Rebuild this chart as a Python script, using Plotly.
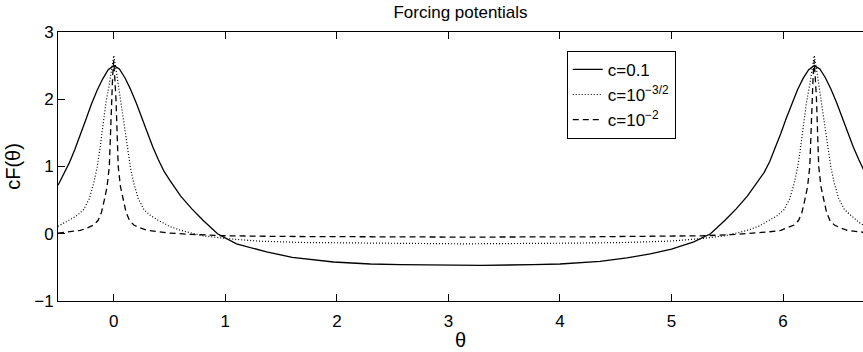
import plotly.graph_objects as go

# ---- data ----
theta_a = [-0.5, -0.45, -0.4, -0.35, -0.3, -0.25, -0.2, -0.15, -0.1, -0.05, 0.0,
           0.05, 0.1, 0.15, 0.2, 0.25, 0.3, 0.35, 0.4, 0.45, 0.5, 0.6, 0.7, 0.8,
           0.93, 1.1, 1.37, 1.6, 1.97, 2.3, 2.57, 3.0, 3.3, 3.76, 4.0, 4.36, 4.6,
           4.81, 5.0, 5.2, 5.35, 5.48, 5.58, 5.68, 5.78, 5.83, 5.88, 5.93, 5.98,
           6.03, 6.08, 6.13, 6.18, 6.23, 6.28, 6.33, 6.38, 6.43, 6.48, 6.53, 6.58,
           6.63, 6.68, 6.72, 6.78]
cf_a = [0.72, 0.88, 1.05, 1.25, 1.46, 1.70, 1.93, 2.13, 2.30, 2.44, 2.50,
        2.45, 2.32, 2.15, 1.95, 1.73, 1.50, 1.29, 1.10, 0.93, 0.80, 0.56, 0.37, 0.20,
        0.00, -0.15, -0.27, -0.35, -0.42, -0.45, -0.46, -0.47, -0.47, -0.46, -0.45, -0.41, -0.36,
        -0.30, -0.23, -0.12, 0.00, 0.20, 0.37, 0.56, 0.79, 0.91, 1.07, 1.27, 1.49,
        1.72, 1.94, 2.14, 2.31, 2.44, 2.50, 2.45, 2.32, 2.15, 1.95, 1.73, 1.50,
        1.29, 1.10, 0.96, 0.78]

theta_b = [-0.5, -0.4, -0.33, -0.27, -0.22, -0.18, -0.15, -0.125, -0.1, -0.07, -0.04, -0.02, 0.0,
           0.02, 0.04, 0.07, 0.1, 0.125, 0.15, 0.18, 0.22, 0.27, 0.33, 0.4, 0.5, 0.6, 0.8,
           1.0, 1.3, 1.7, 2.2, 3.14, 4.08, 4.58, 4.98, 5.28, 5.48, 5.68, 5.78, 5.88,
           5.95, 6.01, 6.06, 6.10, 6.13, 6.155, 6.18, 6.21, 6.24, 6.26, 6.28,
           6.30, 6.32, 6.35, 6.38, 6.405, 6.43, 6.46, 6.50, 6.55, 6.61, 6.68, 6.72, 6.78]
cf_b = [0.11, 0.20, 0.27, 0.36, 0.52, 0.75, 0.98, 1.25, 1.55, 1.95, 2.22, 2.45, 2.65,
        2.45, 2.22, 1.95, 1.55, 1.25, 0.98, 0.75, 0.52, 0.36, 0.27, 0.20, 0.11, 0.05, -0.03,
        -0.07, -0.11, -0.13, -0.14, -0.15, -0.14, -0.13, -0.11, -0.07, -0.03, 0.05, 0.11, 0.20,
        0.27, 0.36, 0.52, 0.75, 0.98, 1.25, 1.55, 1.95, 2.22, 2.45, 2.65,
        2.45, 2.22, 1.95, 1.55, 1.25, 0.98, 0.75, 0.52, 0.36, 0.27, 0.17, 0.13, 0.11]

theta_c = [-0.5, -0.4, -0.3, -0.23, -0.18, -0.14, -0.11, -0.085, -0.06, -0.04, -0.03, -0.02, -0.01, 0.0,
           0.01, 0.02, 0.03, 0.04, 0.06, 0.085, 0.11, 0.14, 0.18, 0.23, 0.3, 0.4, 0.5, 0.7,
           1.0, 1.5, 2.0, 3.14, 4.28, 4.78, 5.28, 5.58, 5.78, 5.88, 5.98, 6.05, 6.10,
           6.14, 6.17, 6.195, 6.22, 6.24, 6.25, 6.26, 6.27, 6.28,
           6.29, 6.30, 6.31, 6.32, 6.34, 6.365, 6.39, 6.42, 6.46, 6.51, 6.58, 6.68, 6.78]
cf_c = [0.01, 0.03, 0.05, 0.09, 0.13, 0.20, 0.32, 0.50, 0.70, 1.00, 1.50, 2.00, 2.35, 2.58,
        2.35, 2.00, 1.50, 1.00, 0.70, 0.50, 0.32, 0.20, 0.13, 0.09, 0.05, 0.03, 0.01, -0.01,
        -0.03, -0.04, -0.045, -0.05, -0.045, -0.04, -0.03, -0.01, 0.01, 0.03, 0.05, 0.09, 0.13,
        0.20, 0.32, 0.50, 0.70, 1.00, 1.50, 2.00, 2.35, 2.58,
        2.35, 2.00, 1.50, 1.00, 0.70, 0.50, 0.32, 0.20, 0.13, 0.09, 0.05, 0.03, 0.01]

names = ["c=0.1", "c=10<sup>\u22123/2</sup>", "c=10<sup>\u22122</sup>"]
x_ticks = [0, 1, 2, 3, 4, 5, 6]
y_ticks = [-1, 0, 1, 2, 3]

FONT = "Liberation Sans, Arial, sans-serif"

fig = go.Figure()
fig.add_trace(go.Scatter(x=theta_a, y=cf_a, mode="lines", name=names[0],
                         line=dict(color="black", width=1.3)))
fig.add_trace(go.Scatter(x=theta_b, y=cf_b, mode="lines", name=names[1],
                         line=dict(color="black", width=1.2, dash="1px,2px")))
fig.add_trace(go.Scatter(x=theta_c, y=cf_c, mode="lines", name=names[2],
                         line=dict(color="black", width=1.3, dash="6px,4px")))

fig.update_layout(
    width=863, height=352,
    margin=dict(l=58, r=0, t=32, b=51),
    paper_bgcolor="white", plot_bgcolor="white",
    font=dict(family=FONT, size=17, color="black"),
    title=dict(text="Forcing potentials", x=0.5, xref="paper", xanchor="center",
               y=1 - 12 / 352, yanchor="middle", yref="container",
               font=dict(family=FONT, size=17, color="black")),
    showlegend=True,
    legend=dict(x=0.632, y=0.93, xanchor="left", yanchor="top",
                bordercolor="black", borderwidth=1, bgcolor="white",
                font=dict(family=FONT, size=17, color="black"),
                tracegroupgap=0),
    xaxis=dict(range=[-0.5, 6.717], tickvals=x_ticks, ticks="inside", ticklen=7,
               tickcolor="black", showline=True, linecolor="black", linewidth=1,
               mirror="ticks", showgrid=False, zeroline=False,
               ticklabelstandoff=5,
               title=dict(text="\u03b8", standoff=2)),
    yaxis=dict(range=[-1, 3], tickvals=y_ticks, ticks="inside", ticklen=7,
               tickcolor="black", showline=True, linecolor="black", linewidth=1,
               mirror=False, showgrid=False, zeroline=False,
               title=dict(text="cF(\u03b8)", standoff=8)),
    yaxis2=dict(range=[-1, 3], tickvals=y_ticks, ticks="inside", ticklen=7,
                tickcolor="black", overlaying="y", side="right", anchor="x",
                showline=False, showgrid=False, zeroline=False,
                showticklabels=False),
)

fig.write_html("out.html")
